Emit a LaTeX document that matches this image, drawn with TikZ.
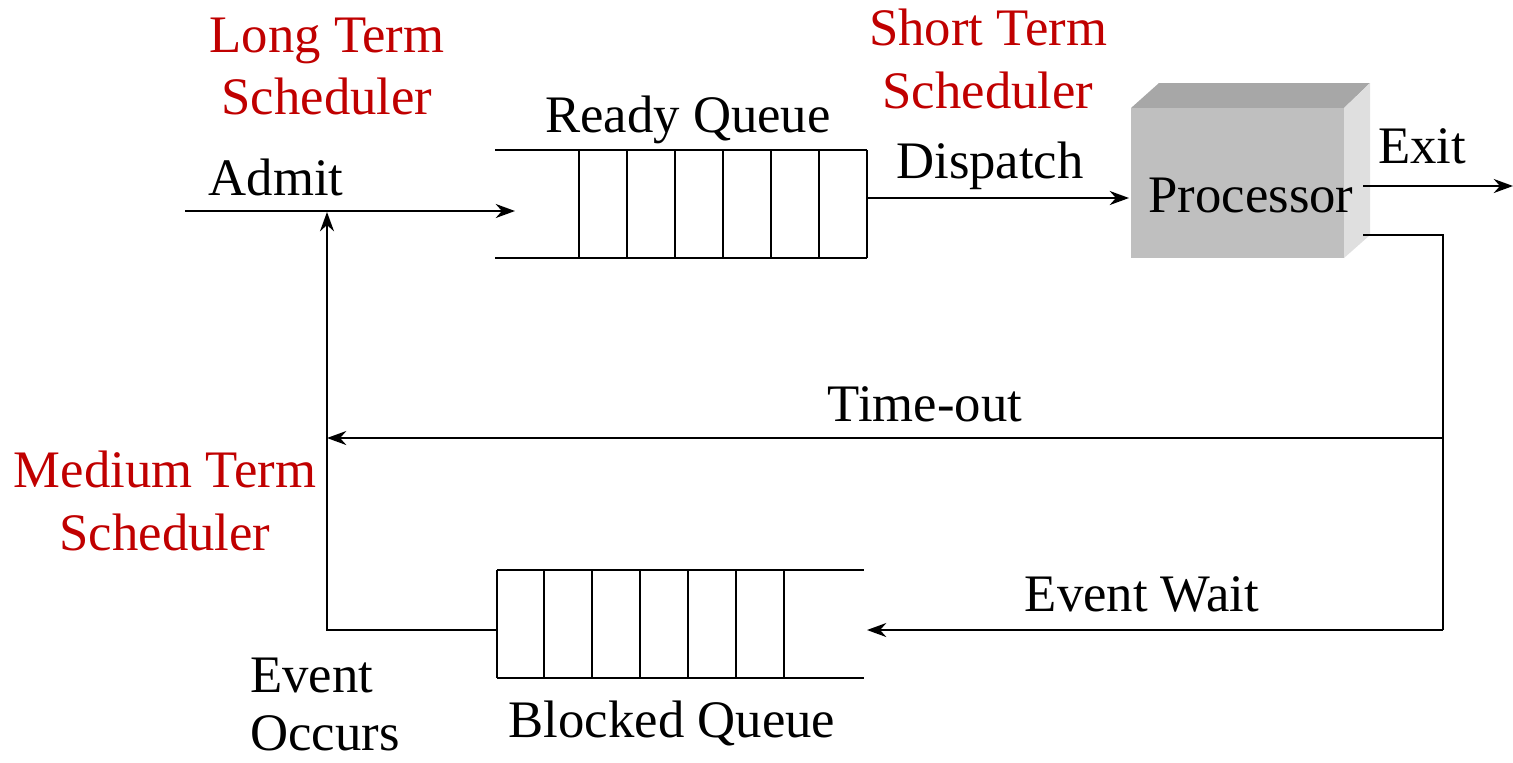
\documentclass[tikz,border=0pt]{standalone}
\usepackage{fontspec}
\setmainfont{Liberation Serif}
\usetikzlibrary{arrows.meta}

\definecolor{schedred}{RGB}{192,0,0}

\tikzset{
  lbl/.style={inner sep=0pt,anchor=base,font=\fontsize{30}{35}\selectfont},
  sched/.style={lbl,text=schedred,align=center},
  flow/.style={line width=1.1pt,-{Stealth[length=11pt,width=8pt]}},
  wire/.style={line width=1.1pt},
}

\begin{document}
\begin{tikzpicture}[x=0.02cm,y=-0.02cm]
\useasboundingbox (0,0) rectangle (1513,762);

% ready queue
\draw[wire] (495,150) -- (867,150) (495,258) -- (867,258);
\foreach \x in {579,627,675,723,771,819,867}
  \draw[wire] (\x,150) -- (\x,258);
\node[lbl] (rq) at (688,132) {Ready Queue};

% blocked queue
\draw[wire] (497,570) -- (864,570) (497,678) -- (864,678);
\foreach \x in {497,544,592,640,688,736,784}
  \draw[wire] (\x,570) -- (\x,678);
\node[lbl] (bq) at (672,737) {Blocked Queue};

% processor
\fill[gray!85!black!60] (1131,108) -- (1159,83) -- (1370,83) -- (1344,108) -- cycle;
\fill[gray!25] (1344,108) -- (1370,83) -- (1370,235) -- (1344,258) -- cycle;
\fill[gray!50] (1131,108) rectangle (1344,258);
\node[lbl] (cpu) at (1251,212) {Processor};

% connection points
\coordinate (in)    at (185,211);
\coordinate (rqin)  at (515,211);
\coordinate (rqout) at (867,198);
\coordinate (cpuin) at (1129,198);
\coordinate (cpuout) at (1363,186);
\coordinate (done)  at (1513,186);
\coordinate (back)  at (1363,235);
\coordinate (turn)  at (1443,235);
\coordinate (tsplit) at (1443,438);
\coordinate (tend)  at (327,438);
\coordinate (wcorner) at (1443,630);
\coordinate (bqin)  at (867,630);
\coordinate (bqout) at (497,630);
\coordinate (ecorner) at (327,630);
\coordinate (admit) at (327,212);

\draw[flow] (in) -- (rqin);
\draw[flow] (rqout) -- (cpuin);
\draw[flow] (cpuout) -- (done);
\draw[wire] (back) -- (turn) -- (wcorner);
\draw[flow] (tsplit) -- (tend);
\draw[flow] (wcorner) -- (bqin);
\draw[flow] (bqout) -- (ecorner) -- (admit);

% labels
\node[lbl] (admitlbl) at (276,195) {Admit};
\node[lbl] (displbl) at (990,178) {Dispatch};
\node[lbl] (exitlbl) at (1422,163) {Exit};
\node[lbl] (tolbl) at (925,421) {Time-out};
\node[lbl] (ewlbl) at (1142,611) {Event Wait};
\node[lbl,anchor=base west] (eolbl) at (250,692) {Event};
\node[lbl,anchor=base west] (eolbl2) at (250,750) {Occurs};

\node[sched] (lts) at (327,52) {Long Term};
\node[sched] (lts2) at (327,114) {Scheduler};
\node[sched] (sts) at (988,45) {Short Term};
\node[sched] (sts2) at (988,108) {Scheduler};
\node[sched] (mts) at (165,487) {Medium Term};
\node[sched] (mts2) at (165,550) {Scheduler};
\end{tikzpicture}
\end{document}
